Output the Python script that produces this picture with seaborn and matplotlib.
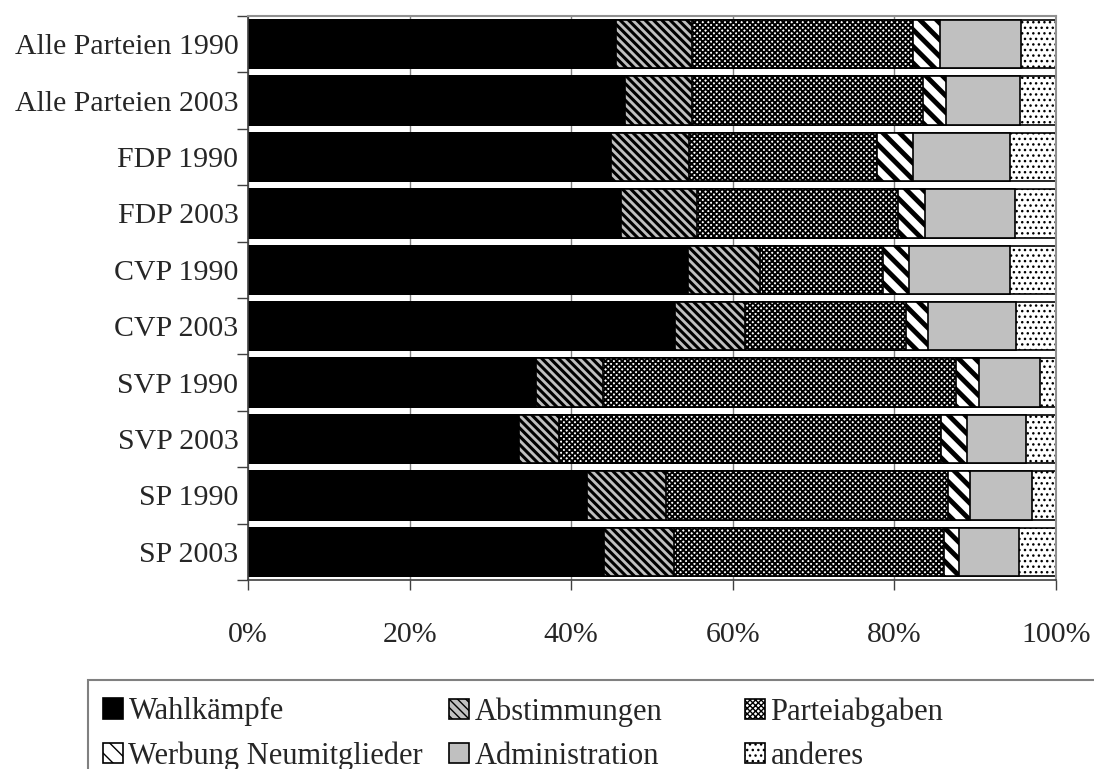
import matplotlib
matplotlib.use("Agg")
import matplotlib.pyplot as plt
from matplotlib.patches import Patch, Rectangle
from matplotlib.ticker import PercentFormatter, FixedLocator
import seaborn as sns
import pandas as pd

categories = ["Alle Parteien 1990", "Alle Parteien 2003", "FDP 1990", "FDP 2003",
              "CVP 1990", "CVP 2003", "SVP 1990", "SVP 2003", "SP 1990", "SP 2003"]
wahlkaempfe = [45.5, 46.7, 44.9, 46.2, 54.5, 52.8, 35.7, 33.6, 41.9, 44.0]
abstimmungen = [9.5, 8.3, 9.7, 9.4, 8.9, 8.7, 8.2, 4.9, 9.8, 8.7]
parteiabgaben = [27.3, 28.6, 23.3, 24.8, 15.2, 19.9, 43.7, 47.3, 34.9, 33.4]
werbung = [3.3, 2.8, 4.4, 3.4, 3.2, 2.7, 2.9, 3.2, 2.7, 1.9]
administration = [10.1, 9.1, 12.0, 11.1, 12.5, 10.9, 7.5, 7.3, 7.7, 7.4]
anderes = [4.3, 4.5, 5.7, 5.1, 5.7, 5.0, 2.0, 3.7, 3.0, 4.6]

series = ["Wahlkämpfe", "Abstimmungen", "Parteiabgaben",
          "Werbung Neumitglieder", "Administration", "anderes"]
# (fill colour, hatch, hatch linewidth)
styles = {
    "Wahlkämpfe": ("black", "", 1.0),
    "Abstimmungen": ("#c0c0c0", "\\\\\\\\", 2.2),
    "Parteiabgaben": ("white", "xxxxxx", 1.4),
    "Werbung Neumitglieder": ("white", "\\\\", 3.5),
    "Administration": ("#c0c0c0", "", 1.0),
    "anderes": ("white", "...", 1.0),
}

sns.set_style("white")
plt.rcParams["font.family"] = ["Liberation Serif", "DejaVu Serif"]

df = pd.DataFrame({
    "Partei": categories,
    "Wahlkämpfe": wahlkaempfe,
    "Abstimmungen": abstimmungen,
    "Parteiabgaben": parteiabgaben,
    "Werbung Neumitglieder": werbung,
    "Administration": administration,
    "anderes": anderes,
})
cum = df[series].cumsum(axis=1)
cum["Partei"] = df["Partei"]

fig = plt.figure(figsize=(10.94, 7.69), dpi=100)
ax = fig.add_axes([248 / 1094, 1 - 580 / 769, (1056 - 248) / 1094, (580 - 16) / 769])

# draw stacked bars from the longest cumulative sum down
for name in reversed(series):
    color, hatch, hlw = styles[name]
    with plt.rc_context({"hatch.linewidth": hlw}):
        sns.barplot(data=cum, x=name, y="Partei", orient="h", color=color,
                    saturation=1, width=0.86, edgecolor="black", linewidth=1.2,
                    hatch=hatch, ax=ax, zorder=2)

ax.set_xlim(0, 100)
ax.set_ylim(9.5, -0.5)
ax.set_xlabel("")
ax.set_ylabel("")
ax.xaxis.set_major_locator(FixedLocator([0, 20, 40, 60, 80, 100]))
ax.xaxis.set_major_formatter(PercentFormatter(decimals=0))
ax.grid(axis="x", color="#808080", linewidth=1, zorder=0)
ax.set_axisbelow(True)
ax.tick_params(axis="x", direction="out", length=7, width=1, color="#404040",
               pad=23, labelsize=21.5, bottom=True)
ax.tick_params(axis="y", which="major", length=0, pad=7, labelsize=21.5)
ax.yaxis.set_minor_locator(FixedLocator([i - 0.5 for i in range(len(categories) + 1)]))
ax.tick_params(axis="y", which="minor", direction="out", length=8, width=1,
               color="#404040", left=True)

for side in ["top", "right"]:
    ax.spines[side].set_color("#909090")
    ax.spines[side].set_linewidth(1.5)
for side in ["left", "bottom"]:
    ax.spines[side].set_color("#404040")
    ax.spines[side].set_linewidth(1.2)

# legend: three columns placed separately, like the Excel legend
legend_cols = [(["Wahlkämpfe", "Werbung Neumitglieder"], 100),
               (["Abstimmungen", "Administration"], 446),
               (["Parteiabgaben", "anderes"], 742)]
for names, x_px in legend_cols:
    handles = []
    for name in names:
        color, hatch, hlw = styles[name]
        handles.append(Patch(facecolor=color, edgecolor="black", hatch=hatch,
                             linewidth=1.2, label=name))
    leg = fig.legend(handles=handles, loc="upper left",
                     bbox_to_anchor=(x_px / 1094, 1 - 694 / 769), frameon=False,
                     fontsize=22, handlelength=0.65, handleheight=0.65,
                     handletextpad=0.18, labelspacing=0.5, borderaxespad=0,
                     borderpad=0.1)
fig.add_artist(Rectangle((88 / 1094, -0.05), 1.1, 0.05 + (769 - 680) / 769,
                         transform=fig.transFigure, fill=False,
                         edgecolor="#808080", linewidth=1.5))

fig.savefig("out.png", dpi=100)
